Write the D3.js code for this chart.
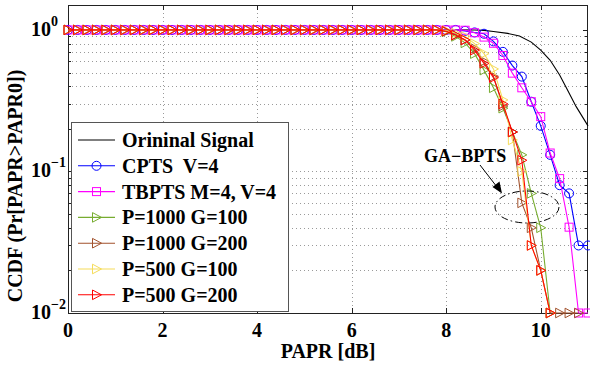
<!DOCTYPE html>
<html><head><meta charset="utf-8">
<script src="https://cdn.jsdelivr.net/npm/d3@7/dist/d3.min.js"></script>
<style>
body{margin:0;background:#fff}
svg{display:block}
text{font-family:"Liberation Serif","Times New Roman",serif;font-weight:bold;fill:#000;white-space:pre}
</style>
</head><body>
<svg id="c" width="590" height="365"></svg>
<script>
// ---------------- data ----------------
const papr = [0,0.2,0.4,0.6,0.8,1.0,1.2,1.4,1.6,1.8,2.0,2.2,2.4,2.6,2.8,3.0,3.2,3.4,3.6,3.8,
  4.0,4.2,4.4,4.6,4.8,5.0,5.2,5.4,5.6,5.8,6.0,6.2,6.4,6.6,6.8,7.0,7.2,7.4,7.6,7.8,
  8.0,8.2,8.4,8.6,8.8,9.0,9.2,9.4,9.6,9.8,10.0,10.2,10.4,10.6,10.8,11.0];

const originalX = [0,8.2,8.6,8.8,9.0,9.3,9.55,9.8,10.0,10.2,10.4,10.55,10.75,11.0];
const originalY = [1,1,0.998,0.992,0.975,0.945,0.907,0.82,0.72,0.61,0.48,0.385,0.287,0.21];

const cpts = [1,1,1,1,1,1,1,1,1,1, 1,1,1,1,1,1,1,1,1,1, 1,1,1,1,1,1,1,1,1,1, 1,1,1,1,1,1,1,1,1,1,
  1,1,0.985,0.96,0.94,0.83,0.70,0.56,0.468,0.311,0.21,0.131,0.08,0.07,0.03,0.03];
const tbpts = [1,1,1,1,1,1,1,1,1,1, 1,1,1,1,1,1,1,1,1,1, 1,1,1,1,1,1,1,1,1,1, 1,1,1,1,1,1,1,1,1,1,
  1,1,0.995,0.955,0.89,0.805,0.66,0.495,0.39,0.311,0.244,0.135,0.089,0.0404,0.01,0.01];
const p1000g100 = [1,1,1,1,1,1,1,1,1,1, 1,1,1,1,1,1,1,1,1,1, 1,1,1,1,1,1,1,1,1,1, 1,1,1,1,1,1,1,1,1,1,
  0.97,0.9,0.81,0.68,0.52,0.39,0.28,0.19,0.131,0.07,0.04,0.01];
const p1000g200 = [1,1,1,1,1,1,1,1,1,1, 1,1,1,1,1,1,1,1,1,1, 1,1,1,1,1,1,1,1,1,1, 1,1,1,1,1,1,1,1,1,1,
  0.98,0.92,0.85,0.74,0.6,0.47,0.29,0.19,0.06,0.04,0.02,0.01,0.01,0.01,0.01];
const p500g100 = [1,1,1,1,1,1,1,1,1,1, 1,1,1,1,1,1,1,1,1,1, 1,1,1,1,1,1,1,1,1,1, 1,1,1,1,1,1,1,1,1,1,
  0.99,0.95,0.9,0.8,0.68,0.53,0.32,0.167,0.1,0.03,0.02,0.01];
const p500g200 = [1,1,1,1,1,1,1,1,1,1, 1,1,1,1,1,1,1,1,1,1, 1,1,1,1,1,1,1,1,1,1, 1,1,1,1,1,1,1,1,1,1,
  0.98,0.92,0.85,0.72,0.58,0.46,0.30,0.19,0.12,0.03,0.02,0.01];

const seriesNames = ["Orininal Signal","CPTS  V=4","TBPTS M=4, V=4","P=1000 G=100","P=1000 G=200","P=500 G=100","P=500 G=200"];
const xTicks = [0,2,4,6,8,10];
const yMajor = [0.01,0.1,1];
const yExp = ["\u22122","\u22121","0"];
const yMinor = [0.02,0.03,0.04,0.05,0.06,0.07,0.08,0.09,0.2,0.3,0.4,0.5,0.6,0.7,0.8,0.9];
const annotation = "GA\u2212BPTS";

// ---------------- layout ----------------
const svg = d3.select("#c");
const L = 68, R = 588, T = 5, B = 313;
const x = d3.scaleLinear().domain([0, 11]).range([L, R]);
const y = d3.scaleLog().domain([0.01, 1.5]).range([B, T]);

const styles = [
  {color:"#000000", marker:null},
  {color:"#0000ff", marker:"circle"},
  {color:"#ff00ff", marker:"square"},
  {color:"#77ac30", marker:"tri"},
  {color:"#a2522d", marker:"tri"},
  {color:"#f5dc5a", marker:"tri"},
  {color:"#ff0000", marker:"tri"}
];

// grid
const grid = svg.append("g").attr("stroke","#9a9a9a").attr("stroke-width",1).attr("stroke-dasharray","1,3");
grid.selectAll("line.v").data(xTicks.filter(d=>d>0)).enter().append("line")
  .attr("x1",d=>Math.round(x(d))+0.5).attr("x2",d=>Math.round(x(d))+0.5).attr("y1",T).attr("y2",B);
grid.selectAll("line.h").data(yMinor.concat([0.1])).enter().append("line")
  .attr("x1",L).attr("x2",R).attr("y1",d=>Math.round(y(d))+0.5).attr("y2",d=>Math.round(y(d))+0.5);

// frame & ticks
const frame = svg.append("g").attr("stroke","#222").attr("stroke-width",1).attr("fill","none");
frame.append("rect").attr("x",L+0.5).attr("y",T+0.5).attr("width",R-L-1).attr("height",B-T);
xTicks.forEach(d=>{
  const px = Math.round(x(d))+0.5;
  frame.append("line").attr("x1",px).attr("x2",px).attr("y1",B).attr("y2",B-5);
  frame.append("line").attr("x1",px).attr("x2",px).attr("y1",T).attr("y2",T+5);
});
yMajor.concat(yMinor).forEach(d=>{
  const py = Math.round(y(d))+0.5;
  const len = yMajor.includes(d) ? 5 : 3;
  frame.append("line").attr("x1",L).attr("x2",L+len).attr("y1",py).attr("y2",py);
  frame.append("line").attr("x1",R).attr("x2",R-len).attr("y1",py).attr("y2",py);
});

// tick labels
svg.append("g").selectAll("text").data(xTicks).enter().append("text")
  .attr("x",d=>x(d)).attr("y",337).attr("text-anchor","middle").attr("font-size",20).text(d=>d);
const yl = svg.append("g").selectAll("text").data(yMajor).enter().append("text")
  .attr("x",31).attr("y",d=>y(d)+6).attr("font-size",20);
yl.append("tspan").text("10");
yl.append("tspan").attr("font-size",14).attr("dy",-10).text((d,i)=>yExp[i]);

// axis titles
svg.append("text").attr("x",(L+R)/2).attr("y",358).attr("text-anchor","middle").attr("font-size",20).text("PAPR [dB]");
svg.append("text").attr("transform","translate(22,186) rotate(-90)").attr("text-anchor","middle")
  .attr("font-size",20).text("CCDF (Pr[PAPR>PAPR0])");

// markers
function drawMarker(g, type, cx, cy, color){
  if(type==="circle"){
    g.append("circle").attr("cx",cx).attr("cy",cy).attr("r",4.5).attr("fill","none").attr("stroke",color).attr("stroke-width",1);
  } else if(type==="square"){
    g.append("rect").attr("x",cx-4).attr("y",cy-4).attr("width",8).attr("height",8).attr("fill","none").attr("stroke",color).attr("stroke-width",1);
  } else if(type==="tri"){
    g.append("path").attr("d",`M${cx+5},${cy}L${cx-4},${cy-4.8}L${cx-4},${cy+4.8}Z`).attr("fill","none").attr("stroke",color).attr("stroke-width",1);
  }
}

const line = d3.line().x(d=>x(d[0])).y(d=>y(d[1]));
const allSeries = [
  originalX.map((v,i)=>[v, originalY[i]]),
  cpts.map((v,i)=>[papr[i], v]),
  tbpts.map((v,i)=>[papr[i], v]),
  p1000g100.map((v,i)=>[papr[i], v]),
  p1000g200.map((v,i)=>[papr[i], v]),
  p500g100.map((v,i)=>[papr[i], v]),
  p500g200.map((v,i)=>[papr[i], v])
];
const plot = svg.append("g");
allSeries.forEach((s,k)=>{
  const g = plot.append("g");
  g.append("path").attr("d",line(s)).attr("fill","none").attr("stroke",styles[k].color).attr("stroke-width",1.1);
  if(styles[k].marker) s.forEach(p=>drawMarker(g, styles[k].marker, x(p[0]), y(p[1]), styles[k].color));
});

// legend
const lg = svg.append("g");
lg.append("rect").attr("x",71.5).attr("y",122.5).attr("width",217).attr("height",189)
  .attr("fill","#fff").attr("stroke","#555").attr("stroke-width",1);
seriesNames.forEach((name,k)=>{
  const ly = 140 + k*25.8;
  lg.append("line").attr("x1",78).attr("x2",115).attr("y1",ly).attr("y2",ly).attr("stroke",styles[k].color).attr("stroke-width",1.1);
  if(styles[k].marker) drawMarker(lg, styles[k].marker, 96.5, ly, styles[k].color);
  lg.append("text").attr("x",122).attr("y",ly+7).attr("font-size",20).text(name);
});

// annotation
const an = svg.append("g");
an.append("text").attr("x",424).attr("y",162).attr("font-size",18).text(annotation);
an.append("line").attr("x1",480).attr("y1",165).attr("x2",497).attr("y2",187).attr("stroke","#000").attr("stroke-width",1);
an.append("path").attr("d","M502,193.5L492.5,187L499.5,181.5Z").attr("fill","#000");
an.append("ellipse").attr("cx",527).attr("cy",207).attr("rx",32).attr("ry",16)
  .attr("fill","none").attr("stroke","#000").attr("stroke-width",1).attr("stroke-dasharray","7,3,1.5,3");
</script>
</body></html>
